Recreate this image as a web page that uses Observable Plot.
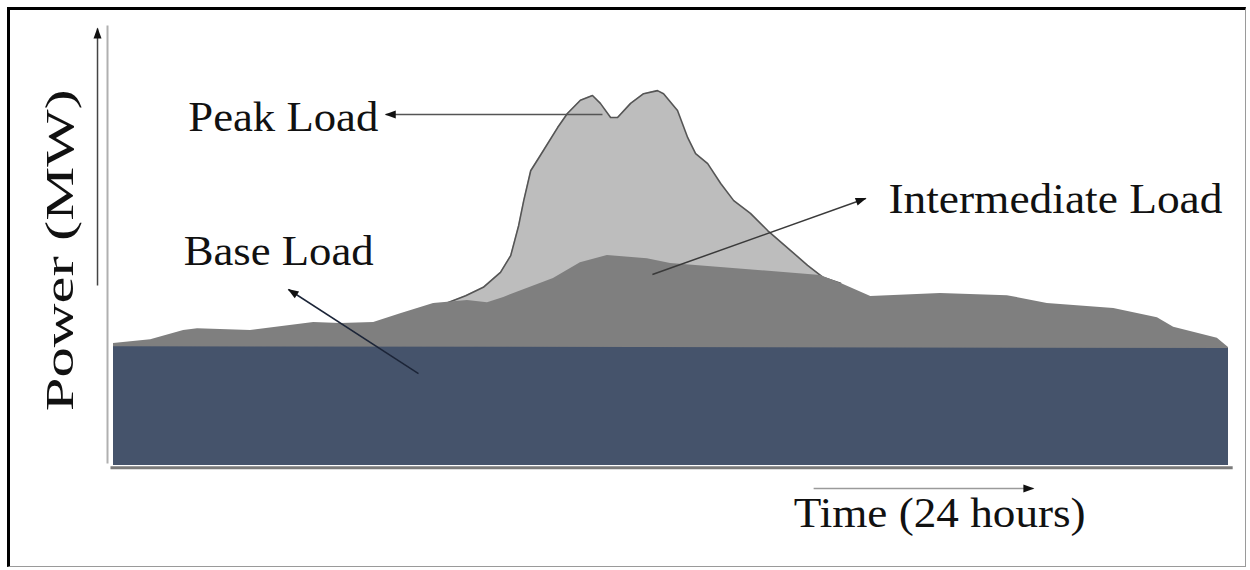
<!DOCTYPE html>
<html>
<head>
<meta charset="utf-8">
<script src="https://cdn.jsdelivr.net/npm/d3@7"></script>
<script src="https://cdn.jsdelivr.net/npm/@observablehq/plot@0.6"></script>
<style>
  html, body { margin: 0; padding: 0; background: #fff; }
  #wrap { position: relative; width: 1250px; height: 570px; overflow: hidden; }
  #frame { position: absolute; left: 7px; top: 7px; width: 1239px; height: 560px;
           border-left: 3px solid #000; border-top: 3px solid #000;
           border-right: 1px solid #9a9a9a; border-bottom: 1px solid #9a9a9a; box-sizing: border-box; pointer-events: none; }
  #chart svg { position: absolute; left: 0; top: 0; }
</style>
</head>
<body>
<div id="wrap"><div id="chart"></div><div id="frame"></div></div>
<script>
// ---- Data (time in hours, power in arbitrary MW units) ----
const baseHours = [0, 24];
const baseMW = [27.0, 26.6];

const intermediateHours = [0, 0.80, 1.51, 1.81, 2.95, 4.31, 4.89, 5.60, 6.18, 6.89, 7.62, 8.05, 8.40, 9.47, 10.05, 10.63, 11.49, 11.99, 13.07, 15.22, 15.65, 16.30, 17.80, 19.24, 20.10, 21.53, 22.47, 22.82, 23.76, 24.0];
const intermediateMW = [27.7, 28.6, 30.7, 31.1, 30.7, 32.5, 32.3, 32.5, 34.5, 36.8, 37.5, 37.0, 38.2, 42.5, 46.1, 47.7, 47.0, 45.9, 45.0, 43.2, 41.4, 38.4, 39.1, 38.6, 36.8, 35.7, 33.6, 31.4, 28.9, 26.8];

const peakHours = [7.15, 7.58, 7.96, 8.33, 8.55, 8.72, 8.83, 8.98, 9.19, 9.56, 9.77, 10.05, 10.31, 10.48, 10.70, 10.85, 11.13, 11.41, 11.71, 11.84, 12.14, 12.36, 12.53, 12.79, 13.07, 13.35, 13.71, 14.08, 14.57, 14.94, 15.28, 15.65];
const peakMW = [36.8, 38.6, 40.5, 43.9, 47.7, 54.5, 60.2, 67.0, 70.5, 76.8, 80.0, 83.0, 84.1, 82.3, 79.1, 79.1, 82.3, 84.5, 85.2, 84.5, 80.7, 74.5, 70.9, 68.6, 64.1, 60.2, 57.3, 53.4, 48.9, 45.5, 42.7, 41.4];

// Annotation labels and their pointer arrows (in data units)
const labelNames = ["Peak Load", "Base Load", "Intermediate Load"];
const labelHour = [1.61, 1.51, 16.68];
const labelMW = [76.1, 45.5, 57.5];
const pointerFromHour = [10.525, 6.565, 11.60];
const pointerFromMW = [79.8, 20.9, 43.4];
const pointerToHour = [5.86, 3.767, 16.19];
const pointerToMW = [79.8, 40.0, 60.7];
const pointerColor = ["#555555", "#1c2538", "#3a3a3a"];

const xTitle = "Time (24 hours)";
const yTitle = "Power (MW)";

// ---- Build tables ----
const base = baseHours.map((h, i) => ({h, v: baseMW[i]}));
const inter = intermediateHours.map((h, i) => ({h, v: intermediateMW[i]}));
const peak = peakHours.map((h, i) => ({h, v: peakMW[i]}));
const labels = labelNames.map((t, i) => ({t, h: labelHour[i], v: labelMW[i]}));
const pointers = labelNames.map((t, i) => ({
  h1: pointerFromHour[i], v1: pointerFromMW[i], h2: pointerToHour[i], v2: pointerToMW[i], c: pointerColor[i]
}));

const serif = "'Liberation Serif', 'Times New Roman', serif";

const chart = Plot.plot({
  width: 1250,
  height: 570,
  marginLeft: 113,
  marginRight: 22,
  marginTop: 25,
  marginBottom: 105,
  x: {domain: [0, 24], axis: null},
  y: {domain: [0, 100], axis: null},
  style: {background: "transparent", overflow: "visible"},
  marks: [
    // peak load (drawn first, partially covered by intermediate)
    Plot.areaY(peak, {x: "h", y: "v", fill: "#bdbdbd"}),
    Plot.line(peak, {x: "h", y: "v", stroke: "#555", strokeWidth: 1.6}),
    // intermediate load
    Plot.areaY(inter, {x: "h", y: "v", fill: "#7f7f7f"}),
    // base load
    Plot.areaY(base, {x: "h", y: "v", fill: "#45536b"}),
    // axes drawn as lines
    Plot.link([0], {x1: -0.129, x2: -0.129, y1: 0.45, y2: 100, stroke: "#b0b0b0", strokeWidth: 2}),
    Plot.link([0], {x1: -0.065, x2: 24.09, y1: -0.5, y2: -0.5, stroke: "#7a7a7a", strokeWidth: 3}),
    Plot.link([0], {x1: -0.344, x2: -0.344, y1: 40.9, y2: 99.3, stroke: "#444", strokeWidth: 1.5, markerEnd: "arrow"}),
    Plot.link([0], {x1: 15.07, x2: 19.8, y1: -5.23, y2: -5.23, stroke: "#9a9a9a", strokeWidth: 1.5, markerEnd: "arrow"}),
    // annotation pointers
    Plot.link(pointers, {x1: "h1", y1: "v1", x2: "h2", y2: "v2", stroke: "c", strokeWidth: 1.5, markerEnd: "arrow"}),
    // labels
    Plot.text(labels, {x: "h", y: "v", text: "t", textAnchor: "start", lineAnchor: "bottom",
      fontSize: 42, fontFamily: serif, fill: "#111"}),
    Plot.text([xTitle], {x: 14.64, y: -13.9, text: d => d, textAnchor: "start", lineAnchor: "bottom",
      fontSize: 42, fontFamily: serif, fill: "#111"}),
    Plot.text([yTitle], {x: -0.88, y: 48.9, text: d => d, rotate: -90, textAnchor: "middle", lineAnchor: "bottom",
      fontSize: 40, fontFamily: serif, fill: "#111"})
  ]
});

// Style: filled triangular arrowheads
chart.querySelectorAll("marker").forEach(m => {
  m.setAttribute("viewBox", "-11 -5 13 10");
  m.setAttribute("markerWidth", 13);
  m.setAttribute("markerHeight", 10);
  m.setAttribute("markerUnits", "userSpaceOnUse");
  m.setAttribute("fill", "#111");
  m.setAttribute("stroke", "none");
  m.innerHTML = "";
  const p = document.createElementNS("http://www.w3.org/2000/svg", "path");
  p.setAttribute("d", "M-10,-4L1,0L-10,4Z");
  m.appendChild(p);
});

// Style: stretch text widths to match the source lettering
const textWidths = {"Peak Load": 190, "Base Load": 190, "Intermediate Load": 334, "Time (24 hours)": 292, "Power (MW)": 322};
chart.querySelectorAll("text").forEach(t => {
  const w = textWidths[t.textContent];
  if (w) { t.setAttribute("textLength", w); t.setAttribute("lengthAdjust", "spacingAndGlyphs"); }
});

document.getElementById("chart").appendChild(chart);
</script>
</body>
</html>
